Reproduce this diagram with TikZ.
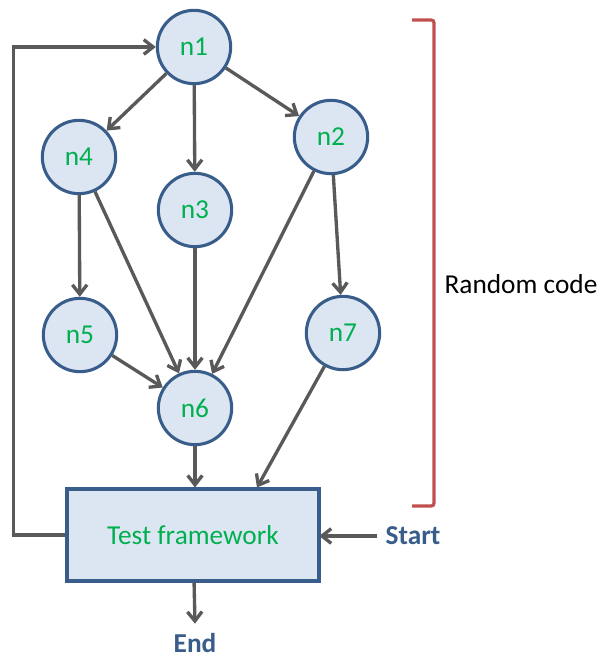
\documentclass[tikz,border=0pt]{standalone}
\usepackage{fontspec}
\setmainfont{Carlito}
\usetikzlibrary{arrows.meta}

\begin{document}
\begin{tikzpicture}[x=0.75pt,y=-0.75pt,
    vertex/.style={circle,draw=nodeline,fill=nodefill,line width=2.3pt,
      minimum size=55pt,inner sep=0pt,text=label,font=\fontsize{20.5}{24}\selectfont},
    frame/.style={rectangle,draw=nodeline,fill=nodefill,line width=2.3pt,
      minimum width=189pt,minimum height=69pt,text=label,font=\fontsize{20.5}{24}\selectfont},
    flow/.style={draw=edge,line width=2.5pt,-{Straight Barb[length=7pt,width=11pt]}},
    tag/.style={text=nodeline,inner sep=1pt,font=\fontsize{20.5}{24}\selectfont\bfseries}]
  \definecolor{nodefill}{HTML}{DCE6F2}
  \definecolor{nodeline}{HTML}{385D8A}
  \definecolor{label}{HTML}{00B050}
  \definecolor{edge}{HTML}{595959}
  \definecolor{bracket}{HTML}{C0504D}

  \useasboundingbox (0,0) rectangle (602,658);

  % random code graph
  \node[vertex] (n1) at (194,47)  {n1};
  \node[vertex] (n2) at (331,137) {n2};
  \node[vertex] (n3) at (195,210) {n3};
  \node[vertex] (n4) at (79,157)  {n4};
  \node[vertex] (n5) at (80,335)  {n5};
  \node[vertex] (n6) at (195,408) {n6};
  \node[vertex] (n7) at (343,333) {n7};

  \node[frame] (tf) at (193,535) {Test framework};
  \node[tag] (start) at (413,536) {Start};
  \node[tag] (stop) at (195,643) {End};

  \foreach \from/\to in {n1/n4,n1/n3,n1/n2,n4/n5,n4/n6,n3/n6,n2/n6,n2/n7,n5/n6}
    \draw[flow] (\from) -- (\to);

  \draw[flow] (n6) -- (n6 |- tf.north);
  \draw[flow] (n7) -- ([xshift=48pt]tf.north);
  \draw[flow,shorten <=5pt] (start) -- ([xshift=-1pt]start.west -| tf.east);
  \draw[flow] (tf) -- ([yshift=6pt]stop.north);
  \draw[flow] (tf.west) -- ++(-52,0) |- (n1.west);

  % bracket
  \draw[bracket,line width=2.4pt,rounded corners=2pt]
    (412,20) -- (434,20) -- (434,506) -- (412,506);
  \node[font=\fontsize{20.5}{24}\selectfont] (rand) at (521,284) {Random code};
\end{tikzpicture}
\end{document}
